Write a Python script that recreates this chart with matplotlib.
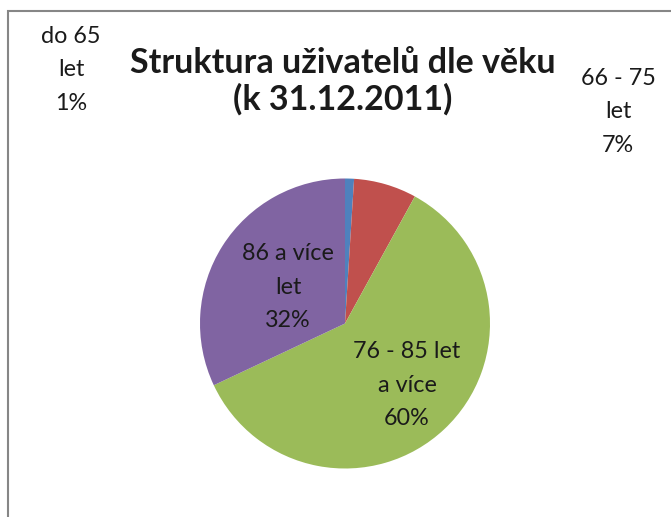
import matplotlib
matplotlib.use("Agg")
import matplotlib.pyplot as plt
from matplotlib.patches import Rectangle

categories = ["do 65\nlet", "66 - 75\nlet", "76 - 85 let\na více", "86 a více\nlet"]
values = [1, 7, 60, 32]
colors = ["#4F81BD", "#C0504D", "#9BBB59", "#8064A2"]
title = "Struktura uživatelů dle věku\n(k 31.12.2011)"

W, H = 671, 517
fig = plt.figure(figsize=(W / 100, H / 100), dpi=100)
fig.patch.set_facecolor("white")

# frame
fig.patches.append(Rectangle((8 / W, -0.1), 1.2, (H - 11) / H + 0.1, transform=fig.transFigure,
                             fill=False, edgecolor="#868686", linewidth=1.5))

font = "Lato"
cx, cy, r = 345, 323.5, 145
ax = fig.add_axes([(cx - r) / W, (H - cy - r) / H, 2 * r / W, 2 * r / H])
ax.pie(values, colors=colors, startangle=90, counterclock=False, radius=1,
       wedgeprops=dict(linewidth=0))
ax.set_xlim(-1, 1)
ax.set_ylim(-1, 1)
ax.set_aspect("equal")
ax.axis("off")

fig.text(343 / W, 1 - 81 / H, title, ha="center", va="center", fontsize=24.5,
         fontweight="bold", family=font, color="#1a1a1a", linespacing=1.15)

label_pos = [(71, 70), (618, 112), (407, 385), (288, 287)]
for cat, v, (x, y) in zip(categories, values, label_pos):
    fig.text(x / W, 1 - y / H, f"{cat}\n{v}%", ha="center", va="center",
             fontsize=16.8, family=font, color="#1a1a1a", linespacing=1.72)

fig.savefig("out.png", dpi=100)
